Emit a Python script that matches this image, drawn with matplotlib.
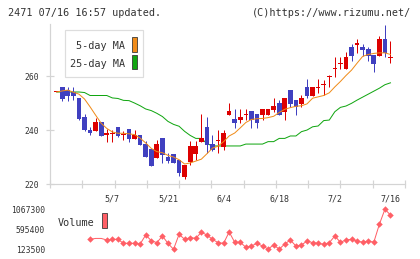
import matplotlib
matplotlib.use("Agg")
import matplotlib.pyplot as plt
from matplotlib.patches import Rectangle
import numpy as np

plt.rcParams['font.family'] = ['DejaVu Sans Mono']

# ---------------- data ----------------
opens = [254.0, 255.8, 254.8, 254.0, 252.0, 244.8, 240.0, 239.8, 243.0, 238.0,
         238.4, 241.0, 238.0, 240.2, 236.7, 238.0, 234.8, 233.0, 229.8, 237.0,
         230.1, 231.1, 228.9, 222.7, 228.0, 231.0, 235.7, 241.1, 234.8, 235.8,
         233.8, 245.7, 244.1, 243.7, 245.6, 247.0, 245.9, 245.6, 245.6, 247.4,
         250.0, 246.7, 254.8, 251.1, 249.8, 255.9, 252.7, 255.7, 256.8, 259.6,
         262.6, 264.5, 262.6, 270.6, 271.7, 270.6, 269.9, 267.8, 267.5, 273.9,
         266.7]
highs = [254.0, 255.9, 255.9, 255.9, 252.0, 245.9, 241.2, 244.6, 243.0, 240.2,
         240.0, 241.0, 239.8, 240.2, 239.9, 238.0, 236.0, 233.0, 236.3, 237.0,
         231.4, 231.1, 228.9, 227.0, 236.0, 236.0, 245.9, 244.7, 238.1, 240.0,
         240.0, 250.1, 247.8, 247.8, 247.8, 247.0, 245.9, 247.8, 247.8, 251.9,
         251.1, 251.9, 254.8, 251.1, 253.0, 258.9, 255.9, 258.9, 258.7, 260.4,
         266.9, 266.9, 268.8, 271.9, 273.9, 271.9, 270.6, 267.8, 274.8, 278.9,
         273.0]
lows = [254.0, 250.9, 250.9, 251.1, 243.8, 239.5, 238.2, 239.6, 237.9, 235.7,
        235.7, 237.4, 236.3, 235.7, 236.7, 234.6, 229.9, 226.8, 229.5, 227.9,
        227.7, 227.9, 223.0, 221.9, 226.9, 228.9, 235.7, 231.5, 232.1, 231.6,
        232.6, 245.7, 240.9, 242.6, 243.7, 240.9, 240.9, 243.7, 245.6, 246.8,
        245.6, 243.7, 248.6, 245.6, 248.4, 251.7, 252.7, 253.8, 253.0, 256.0,
        259.8, 262.5, 262.6, 265.7, 268.6, 267.4, 265.7, 261.6, 267.5, 266.9,
        264.7]
closes = [254.0, 251.5, 252.7, 252.7, 244.0, 239.9, 238.8, 243.0, 237.9, 239.0,
          238.8, 237.9, 238.6, 236.8, 238.0, 234.6, 229.9, 226.8, 234.8, 230.7,
          228.6, 227.9, 224.0, 227.0, 234.1, 234.1, 237.0, 234.6, 232.6, 236.1,
          238.9, 247.0, 242.6, 244.8, 246.0, 243.7, 242.7, 247.8, 247.8, 248.9,
          245.6, 251.9, 249.8, 248.6, 251.9, 252.7, 255.9, 256.0, 257.1, 260.0,
          263.0, 264.9, 266.9, 267.4, 272.0, 269.6, 267.5, 264.4, 273.9, 268.6,
          267.0]
ma5 = [254.1, 254.5, 254.8, 254.0, 253.3, 251.5, 248.6, 245.5, 242.5, 240.6,
       239.3, 238.8, 238.8, 238.6, 238.3, 237.0, 235.2, 233.2, 232.0, 231.6,
       230.6, 230.0, 229.0, 227.4, 227.8, 228.5, 229.2, 231.2, 233.3, 234.0,
       235.7, 237.8, 238.9, 240.8, 242.8, 243.9, 244.2, 244.3, 244.6, 245.1,
       246.5, 247.7, 248.3, 248.8, 249.0, 249.7, 251.8, 252.3, 252.8, 253.8,
       256.0, 258.0, 260.2, 262.2, 264.8, 267.3, 268.0, 268.4, 268.6, 268.6,
       268.0]
ma25 = [254.1, 254.1, 254.1, 254.1, 254.1, 253.9, 252.8, 252.8, 252.8, 252.8,
        251.9, 251.7, 251.0, 250.9, 250.0, 249.0, 247.8, 247.2, 246.2, 245.0,
        243.2, 242.1, 241.4, 239.5, 238.0, 236.9, 236.9, 235.0, 234.1, 234.1,
        234.1, 234.1, 234.1, 234.1, 234.8, 234.8, 234.8, 234.8, 235.7, 235.7,
        236.9, 236.9, 237.8, 237.8, 239.4, 240.0, 241.2, 241.5, 243.5, 243.7,
        246.8, 248.4, 248.9, 249.9, 251.1, 252.2, 253.3, 254.4, 255.5, 256.8,
        257.5]
volume = [None, None, None, None, None, None, 359000, 380000, 380000, 343000,
          359000, 359000, 265000, 265000, 265000, 249000, 461000, 327000, 280000, 437000,
          265000, 123500, 477000, 359000, 398000, 383000, 525000, 461000, 359000, 280000,
          265000, 532000, 289000, 289000, 171000, 201000, 265000, 201000, 130000, 225000,
          127000, 249000, 343000, 201000, 225000, 319000, 280000, 265000, 241000, 280000,
          437000, 289000, 343000, 359000, 319000, 289000, 319000, 289000, 713000, 1067300,
          933000]
hidden_vol_markers = [7, 8]
date_labels = ["5/7", "5/21", "6/4", "6/18", "7/2", "7/16"]
date_label_idx = [10, 20, 30, 40, 50, 60]
vol_ticks = [123500, 595400, 1067300]

title_left = "2471 07/16 16:57 updated."
title_right = "(C)https://www.rizumu.net/"

# ---------------- style ----------------
W, H = 420, 259
RED = '#dd0000'
BLUE = '#4040c0'
ORANGE = '#f08c1a'
GREEN = '#11a611'
VOLC = '#ff5f66'
GRID = '#d4d4d4'
TXT = '#333333'
PX = 0.72  # points per pixel at dpi 100

fig = plt.figure(figsize=(W / 100, H / 100), dpi=100)

def fx(px):
    return px / W

def fy(py):
    return 1 - py / H

# price axes: x 50..405 px, y 24..184 px
ax = fig.add_axes([fx(50), fy(184), fx(405) - fx(50), fy(24) - fy(184)])
n = len(opens)
xs = np.arange(n)
x0 = (50 - 56.7) / 5.563
x1 = (405 - 56.7) / 5.563
ax.set_xlim(x0, x1)
ax.set_ylim(220, 279.3)

bw = 0.84
for i in xs:
    o, h, l, c = opens[i], highs[i], lows[i], closes[i]
    col = RED if c >= o else BLUE
    ax.vlines(i, l, h, color=col, lw=1.0 * PX, zorder=3)
    bot = min(o, c)
    ht = max(abs(c - o), 0.4)
    ax.add_patch(Rectangle((i - bw / 2, bot), bw, ht, facecolor=col,
                           edgecolor='none', zorder=4))

ax.plot(xs, ma5, color=ORANGE, lw=1.0 * PX, zorder=5)
ax.plot(xs, ma25, color=GREEN, lw=1.0 * PX, zorder=2)

for s in ['top', 'right']:
    ax.spines[s].set_visible(False)
for s in ['left', 'bottom']:
    ax.spines[s].set_color(GRID)
    ax.spines[s].set_linewidth(1.2 * PX)

ax.set_yticks([220, 240, 260])
ax.set_yticklabels(['220', '240', '260'])
ax.tick_params(axis='y', direction='inout', length=8 * PX, width=1.2 * PX,
               color=GRID, labelsize=5.8, labelcolor=TXT, pad=4.8)
ax.set_xticks(np.linspace(x0, x1, 12))
ax.set_xticklabels([])
ax.tick_params(axis='x', which='major', direction='inout', length=8 * PX,
               width=1.2 * PX, color=GRID)
ax.set_xticks(date_label_idx, minor=True)
ax.set_xticklabels(date_labels, minor=True)
ax.tick_params(axis='x', which='minor', length=0, labelsize=6.0,
               labelcolor=TXT, pad=7.3)

# MA legend box
fig.add_artist(Rectangle((fx(65), fy(77.3)), fx(143.3) - fx(65), fy(30) - fy(77.3),
                         transform=fig.transFigure, facecolor='white',
                         edgecolor='#dddddd', lw=1.2 * PX, zorder=10))
fig.text(fx(125), fy(46), "5-day MA", ha='right', va='center', fontsize=7.3,
         color=TXT, zorder=11)
fig.text(fx(125), fy(63.5), "25-day MA", ha='right', va='center', fontsize=7.3,
         color=TXT, zorder=11)
fig.add_artist(Rectangle((fx(131.7), fy(51.7)), fx(137.3) - fx(131.7), fy(37.3) - fy(51.7),
                         transform=fig.transFigure, facecolor=ORANGE,
                         edgecolor='#333333', lw=0.8 * PX, zorder=11))
fig.add_artist(Rectangle((fx(131.7), fy(69)), fx(137.3) - fx(131.7), fy(54.5) - fy(69),
                         transform=fig.transFigure, facecolor=GREEN,
                         edgecolor='#333333', lw=0.8 * PX, zorder=11))

# volume axes: 123500 at y=249.3, 1067300 at y=209.3
vax = fig.add_axes([fx(50), fy(249.3), fx(405) - fx(50), fy(209.3) - fy(249.3)])
vax.set_xlim(x0, x1)
vax.set_ylim(vol_ticks[0], vol_ticks[-1])
vx = [i for i, v in enumerate(volume) if v is not None]
vy = [volume[i] for i in vx]
vax.plot(vx, vy, color=VOLC, lw=1.0 * PX, clip_on=False, zorder=3)
mx = [i for i in vx if i not in hidden_vol_markers]
my = [volume[i] for i in mx]
vax.plot(mx, my, linestyle='none', marker='D', ms=3.3, color=VOLC,
         markeredgewidth=0, clip_on=False, zorder=4)
for s in vax.spines.values():
    s.set_visible(False)
vax.set_xticks([])
vax.set_yticks(vol_ticks)
vax.set_yticklabels([str(v) for v in vol_ticks])
vax.tick_params(axis='y', length=0, labelsize=5.8, labelcolor=TXT, pad=3.6)
vax.patch.set_alpha(0)

fig.text(fx(58), fy(222.5), "Volume", ha='left', va='center', fontsize=7.3, color=TXT)
fig.add_artist(Rectangle((fx(101.7), fy(228)), fx(107.3) - fx(101.7), fy(213) - fy(228),
                         transform=fig.transFigure, facecolor=VOLC,
                         edgecolor='#333333', lw=0.8 * PX, zorder=11))

# header texts
fig.text(fx(8), fy(13), title_left, ha='left', va='center', fontsize=7.3, color=TXT)
fig.text(fx(411), fy(13), title_right, ha='right', va='center', fontsize=7.3, color=TXT)

fig.savefig("out.png", dpi=100)
